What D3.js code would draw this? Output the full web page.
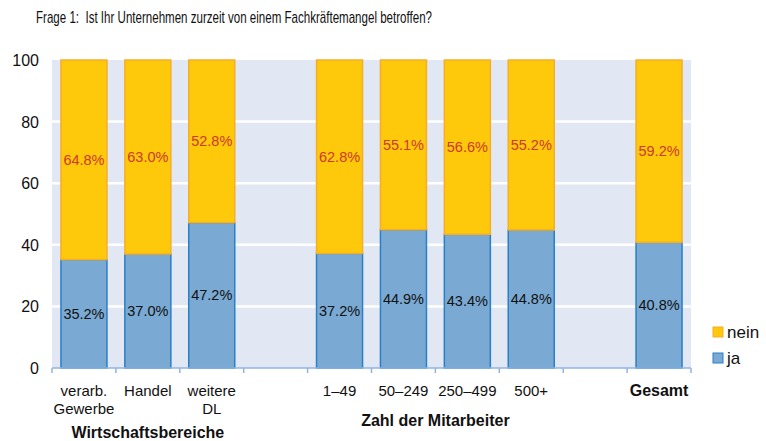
<!DOCTYPE html>
<html>
<head>
<meta charset="utf-8">
<script src="https://cdn.jsdelivr.net/npm/d3@7"></script>
<style>
  body { margin: 0; background: #fff; }
  svg { display: block; font-family: "Liberation Sans", Arial, sans-serif; }
</style>
</head>
<body>
<script>
// data
var categories = ["verarb.|Gewerbe", "Handel", "weitere|DL", "gap1", "1–49", "50–249", "250–499", "500+", "gap2", "Gesamt"];
var ja   = [35.2, 37.0, 47.2, null, 37.2, 44.9, 43.4, 44.8, null, 40.8];
var nein = [64.8, 63.0, 52.8, null, 62.8, 55.1, 56.6, 55.2, null, 59.2];
var yTicks = [0, 20, 40, 60, 80, 100];
var groups = [
  {label: "Wirtschaftsbereiche", from: 0, to: 2},
  {label: "Zahl der Mitarbeiter", from: 4, to: 7}
];

var w = 766, h = 441;
var pLeft = 52, pRight = 691, pTop = 60, pBottom = 368;

var svg = d3.select("body").append("svg")
  .attr("width", w)
  .attr("height", h);

var x = d3.scaleBand().domain(categories).range([pLeft, pRight])
  .paddingInner(0.28).paddingOuter(0.14);
var xSlot = d3.scaleBand().domain(categories).range([pLeft, pRight]).padding(0);
var y = d3.scaleLinear().domain([0, 100]).range([pBottom, pTop]);

// title
svg.append("text")
  .attr("x", 36).attr("y", 23)
  .attr("font-family", "'Liberation Sans Narrow', 'Liberation Sans', Arial, sans-serif")
  .attr("font-size", "17px")
  .attr("textLength", 396)
  .attr("lengthAdjust", "spacingAndGlyphs")
  .style("white-space", "pre")
  .attr("fill", "#111")
  .text("Frage 1:  Ist Ihr Unternehmen zurzeit von einem Fachkräftemangel betroffen?");

// plot background
svg.append("rect")
  .attr("x", pLeft).attr("y", pTop)
  .attr("width", pRight - pLeft).attr("height", pBottom - pTop)
  .attr("fill", "#e1e8f3");

// grid lines
svg.selectAll("line.grid").data(yTicks.filter(function(d) { return d > 0 && d < 100; }))
  .enter().append("line")
  .attr("class", "grid")
  .attr("x1", pLeft).attr("x2", pRight)
  .attr("y1", function(d) { return y(d); })
  .attr("y2", function(d) { return y(d); })
  .attr("stroke", "#fff")
  .attr("stroke-width", 2.5);

// y labels
svg.selectAll("text.ylab").data(yTicks)
  .enter().append("text")
  .attr("class", "ylab")
  .attr("x", 39)
  .attr("y", function(d) { return y(d) + 6; })
  .attr("text-anchor", "end")
  .attr("font-size", "16px")
  .attr("fill", "#111")
  .text(function(d) { return d; });

var idx = d3.range(categories.length).filter(function(i) { return ja[i] != null; });

// ja bars
svg.selectAll("rect.ja").data(idx)
  .enter().append("rect")
  .attr("class", "ja")
  .attr("x", function(i) { return x(categories[i]); })
  .attr("y", function(i) { return y(ja[i]); })
  .attr("width", x.bandwidth())
  .attr("height", function(i) { return y(0) - y(ja[i]); })
  .attr("fill", "#7aaad3")
  .attr("stroke", "#2a7fc6")
  .attr("stroke-width", 1.5);

// nein bars
svg.selectAll("rect.nein").data(idx)
  .enter().append("rect")
  .attr("class", "nein")
  .attr("x", function(i) { return x(categories[i]); })
  .attr("y", function(i) { return y(ja[i] + nein[i]); })
  .attr("width", x.bandwidth())
  .attr("height", function(i) { return y(ja[i]) - y(ja[i] + nein[i]); })
  .attr("fill", "#fec80b")
  .attr("stroke", "#f6ae2a")
  .attr("stroke-width", 1.5);

// value labels
svg.selectAll("text.jalab").data(idx)
  .enter().append("text")
  .attr("class", "jalab")
  .attr("x", function(i) { return x(categories[i]) + x.bandwidth() / 2; })
  .attr("y", function(i) { return y(ja[i] / 2) + 5; })
  .attr("text-anchor", "middle")
  .attr("font-size", "14.5px")
  .attr("fill", "#111")
  .text(function(i) { return ja[i].toFixed(1) + "%"; });

svg.selectAll("text.neinlab").data(idx)
  .enter().append("text")
  .attr("class", "neinlab")
  .attr("x", function(i) { return x(categories[i]) + x.bandwidth() / 2; })
  .attr("y", function(i) { return y(ja[i] + nein[i] / 2) + 5; })
  .attr("text-anchor", "middle")
  .attr("font-size", "14.5px")
  .attr("fill", "#cc3a28")
  .text(function(i) { return nein[i].toFixed(1) + "%"; });

// x axis line + ticks at slot borders
svg.append("line")
  .attr("x1", pLeft).attr("x2", pRight)
  .attr("y1", pBottom).attr("y2", pBottom)
  .attr("stroke", "#8fb4e3").attr("stroke-width", 1.5);

var borders = categories.map(function(c) { return xSlot(c); }).concat([pRight]);
svg.selectAll("line.xtick").data(borders)
  .enter().append("line")
  .attr("class", "xtick")
  .attr("x1", function(d) { return d; }).attr("x2", function(d) { return d; })
  .attr("y1", pBottom).attr("y2", pBottom + 5)
  .attr("stroke", "#8fb4e3").attr("stroke-width", 1.5);

// category labels
var catLab = svg.selectAll("text.cat").data(idx)
  .enter().append("text")
  .attr("class", "cat")
  .attr("x", function(i) { return x(categories[i]) + x.bandwidth() / 2; })
  .attr("y", 396)
  .attr("text-anchor", "middle")
  .attr("font-size", function(i) { return categories[i] == "Gesamt" ? "16px" : "15px"; })
  .attr("font-weight", function(i) { return categories[i] == "Gesamt" ? "bold" : "normal"; })
  .attr("fill", "#111");

catLab.selectAll("tspan")
  .data(function(i) { return categories[i].split("|"); })
  .enter().append("tspan")
  .attr("x", function() { return this.parentNode.getAttribute("x"); })
  .attr("dy", function(d, k) { return k == 0 ? 0 : 18; })
  .text(function(d) { return d; });

// group labels
svg.selectAll("text.group").data(groups)
  .enter().append("text")
  .attr("class", "group")
  .attr("x", function(g) { return (xSlot(categories[g.from]) + xSlot(categories[g.to]) + xSlot.bandwidth()) / 2; })
  .attr("y", function(g, k) { return k == 0 ? 438 : 426; })
  .attr("text-anchor", "middle")
  .attr("font-size", "16px")
  .attr("font-weight", "bold")
  .attr("fill", "#111")
  .text(function(g) { return g.label; });

// legend
var legend = [
  {label: "nein", fill: "#fec80b", stroke: "#f6ae2a"},
  {label: "ja", fill: "#7aaad3", stroke: "#2a7fc6"}
];
var lg = svg.selectAll("g.leg").data(legend)
  .enter().append("g")
  .attr("class", "leg")
  .attr("transform", function(d, k) { return "translate(713," + (327 + k * 26) + ")"; });
lg.append("rect")
  .attr("width", 10).attr("height", 10)
  .attr("fill", function(d) { return d.fill; })
  .attr("stroke", function(d) { return d.stroke; });
lg.append("text")
  .attr("x", 14).attr("y", 11)
  .attr("font-size", "17px")
  .attr("fill", "#111")
  .text(function(d) { return d.label; });
</script>
</body>
</html>
